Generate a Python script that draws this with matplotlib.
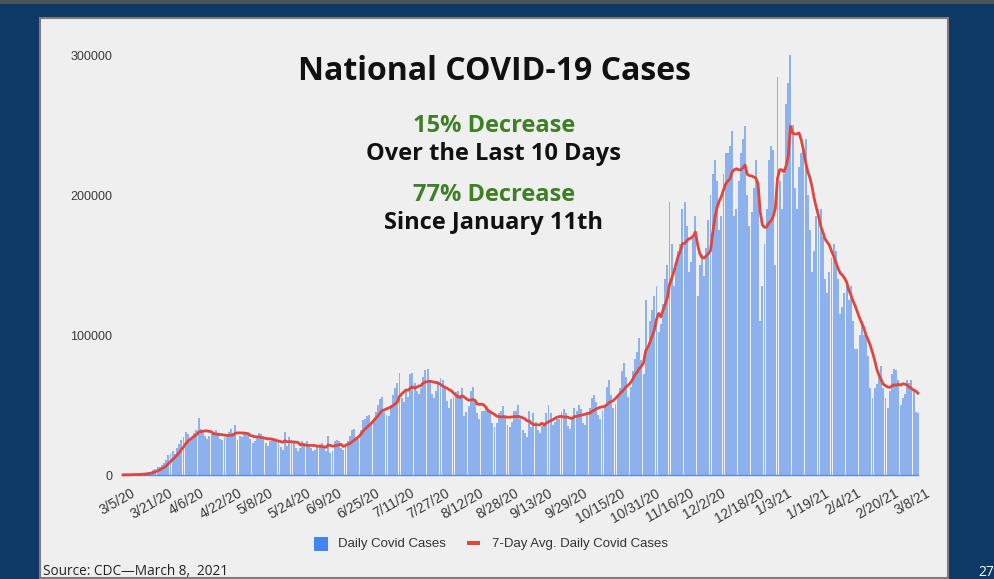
import matplotlib.pyplot as plt
import matplotlib.patches as patches
import matplotlib.transforms as mtransforms
import numpy as np
import pandas as pd

# daily cases in thousands, one row per week (Thu..Wed), starting 3/5/20
daily_k = [
    0.1, 0.2, 0.3, 0.2, 0.3, 0.4, 0.6,
    0.5, 0.8, 0.9, 1.0, 1.5, 2.0, 2.5,
    3.5, 4.5, 5.5, 6.0, 7.5, 8.5, 10.5,
    14, 15, 17, 15, 19, 22, 25,
    27, 31, 29, 25, 27, 30, 32,
    41, 33, 30, 28, 26, 28, 30,
    31, 32, 29, 26, 25, 27, 28,
    31, 33, 30, 36, 25, 28, 27,
    31, 31, 29, 26, 23, 24, 27,
    30, 29, 27, 23, 21, 24, 26,
    26, 26, 24, 20, 18, 31, 21,
    27, 25, 23, 19, 17, 19, 24,
    23, 24, 22, 19, 17, 18, 21,
    22, 23, 21, 17, 28, 16, 17,
    24, 25, 24, 19, 18, 20, 24,
    28, 32, 33, 27, 26, 32, 39,
    40, 42, 43, 37, 38, 45, 50,
    54, 56, 45, 43, 42, 50, 57,
    62, 66, 73, 55, 52, 60, 56,
    72, 73, 66, 60, 58, 62, 70,
    75, 76, 68, 58, 55, 60, 67,
    69, 68, 62, 53, 48, 54, 56,
    59, 60, 57, 62, 42, 45, 49,
    60, 63, 52, 44, 40, 46, 46,
    48, 47, 45, 37, 34, 37, 44,
    46, 49, 43, 36, 34, 38, 46,
    46, 50, 40, 32, 30, 27, 46,
    34, 44, 38, 32, 30, 35, 37,
    44, 50, 44, 36, 38, 40, 40,
    45, 47, 44, 35, 33, 40, 48,
    46, 50, 47, 37, 36, 44, 48,
    55, 57, 52, 43, 40, 46, 50,
    63, 68, 57, 48, 51, 57, 62,
    74, 80, 70, 56, 63, 74, 83,
    88, 98, 82, 72, 125, 90, 110,
    118, 128, 135, 102, 108, 122, 140,
    150, 195, 165, 135, 148, 160, 165,
    190, 195, 178, 145, 152, 170, 185,
    128, 150, 158, 142, 162, 182, 200,
    215, 225, 210, 175, 185, 215, 230,
    230, 235, 246, 185, 190, 210, 230,
    240, 249, 200, 178, 188, 205, 225,
    210, 110, 135, 165, 190, 225, 235,
    232, 150, 284, 210, 190, 215, 265,
    280, 300, 250, 205, 190, 220, 230,
    232, 240, 200, 175, 145, 160, 185,
    190, 190, 170, 140, 130, 145, 155,
    165, 160, 140, 115, 120, 130, 135,
    125, 135, 110, 90, 90, 100, 110,
    100, 100, 85, 62, 55, 62, 65,
    70, 78, 62, 55, 48, 60, 72,
    76, 75, 68, 50, 55, 58, 68,
    66, 68, 60, 45, 44,
]

tick_labels = ["3/5/20", "3/21/20", "4/6/20", "4/22/20", "5/8/20", "5/24/20",
               "6/9/20", "6/25/20", "7/11/20", "7/27/20", "8/12/20", "8/28/20",
               "9/13/20", "9/29/20", "10/15/20", "10/31/20", "11/16/20", "12/2/20",
               "12/18/20", "1/3/21", "1/19/21", "2/4/21", "2/20/21", "3/8/21"]

W, H = 994, 579


def px(x, y):
    return x / W, 1 - y / H


def main():
    daily = pd.Series(daily_k) * 1000
    avg7 = daily.rolling(7, min_periods=1).mean()
    days = np.arange(len(daily))

    fig = plt.figure(figsize=(W / 100, H / 100), dpi=100)
    fig.patch.set_facecolor("#0c3966")

    # top strip and light slide panel (behind the axes)
    fig.add_artist(patches.Rectangle(px(0, 4), 1, 4 / H, transform=fig.transFigure,
                                     facecolor="#4d5358", edgecolor="none", zorder=-10))
    fig.add_artist(patches.Rectangle(px(40, 578), 908 / W, 560 / H, transform=fig.transFigure,
                                     facecolor="#efefef", edgecolor="#7d7d7d", linewidth=1.5,
                                     zorder=-10))

    left, right = 120.84, 920.04
    ax = fig.add_axes([left / W, 1 - 475 / H, (right - left) / W, 420 / H])
    ax.set_facecolor("none")
    ax.bar(days, daily, width=0.9, color="#8db1ed", linewidth=0)
    ax.plot([0, len(daily) - 1], [0, 0], color="#5a8be0", linewidth=1, clip_on=False)
    ax.plot(days, avg7, color="#e2453b", linewidth=2, clip_on=False)

    ax.set_xlim(-1, 369)
    ax.set_ylim(0, 300000)
    ax.set_yticks([0, 100000, 200000, 300000])
    ax.set_yticklabels(["0", "100000", "200000", "300000"])
    ax.set_xticks(np.arange(0, 369, 16))
    ax.set_xticklabels(tick_labels, rotation=30, ha="center")
    ax.tick_params(length=0, labelcolor="#3a3a3a")
    ax.tick_params(axis="y", pad=6, labelsize=9)
    ax.tick_params(axis="x", pad=8, labelsize=10)
    shift = mtransforms.ScaledTranslation(-0.06, 0, fig.dpi_scale_trans)
    for lab in ax.get_xticklabels():
        lab.set_transform(lab.get_transform() + shift)
    for lab in ax.get_xticklabels() + ax.get_yticklabels():
        lab.set_family("Liberation Sans")
    for s in ax.spines.values():
        s.set_visible(False)

    # headline texts
    head = ["Open Sans", "DejaVu Sans"]
    fig.text(*px(495, 80), "National COVID-19 Cases", ha="center", va="baseline",
             fontsize=23, fontweight="bold", family=head, color="#111111")
    fig.text(*px(494, 132), "15% Decrease", ha="center", va="baseline",
             fontsize=17, fontweight="bold", family=head, color="#3f7f25")
    fig.text(*px(494, 160), "Over the Last 10 Days", ha="center", va="baseline",
             fontsize=17, fontweight="bold", family=head, color="#111111")
    fig.text(*px(494, 201), "77% Decrease", ha="center", va="baseline",
             fontsize=17, fontweight="bold", family=head, color="#3f7f25")
    fig.text(*px(494, 229), "Since January 11th", ha="center", va="baseline",
             fontsize=17, fontweight="bold", family=head, color="#111111")

    # legend
    fig.add_artist(patches.Rectangle(px(314, 551), 14 / W, 14 / H, transform=fig.transFigure,
                                     facecolor="#4285f4", edgecolor="none"))
    fig.text(*px(338, 544), "Daily Covid Cases", va="center", fontsize=9.5,
             family="Liberation Sans", color="#333333")
    fig.add_artist(patches.Rectangle(px(467, 545), 13 / W, 4 / H, transform=fig.transFigure,
                                     facecolor="#e2453b", edgecolor="none"))
    fig.text(*px(492, 544), "7-Day Avg. Daily Covid Cases", va="center", fontsize=9.5,
             family="Liberation Sans", color="#333333")

    fig.text(*px(43, 575), "Source: CDC\u2014March 8,  2021", va="baseline", fontsize=9.8,
             family=head, color="#222222")
    fig.text(*px(978, 576), "27", va="baseline", fontsize=10, family=head, color="white")

    fig.savefig("out.png", dpi=100, facecolor=fig.get_facecolor())


if __name__ == "__main__":
    main()
